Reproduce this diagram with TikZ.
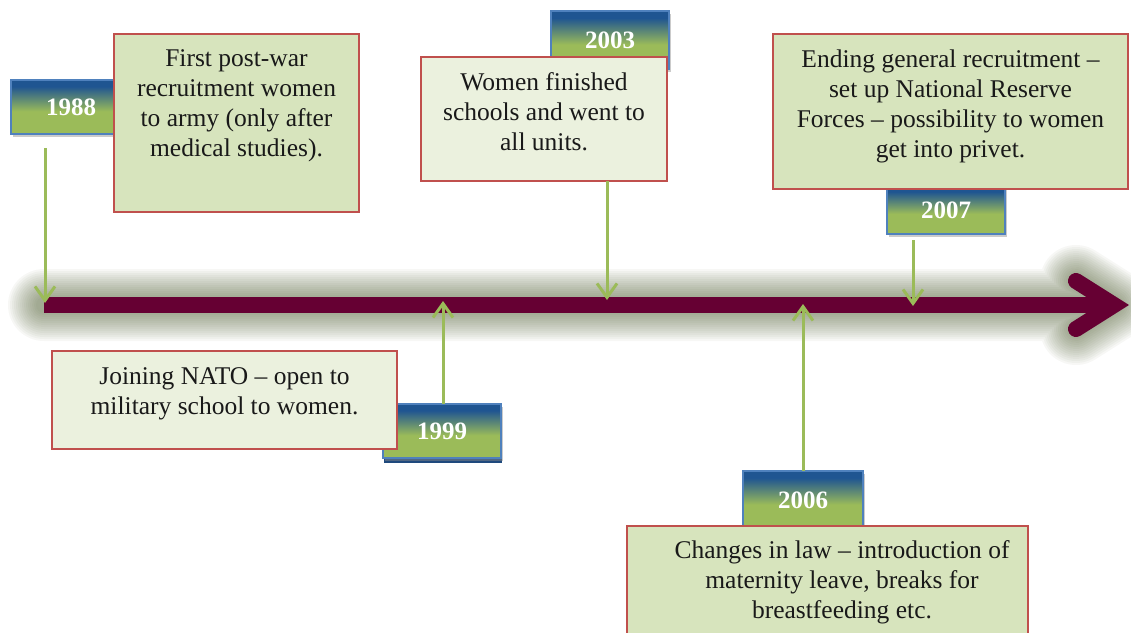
\documentclass[tikz,border=0pt]{standalone}
\usepackage{fontspec}
\setmainfont{Liberation Serif}
\usetikzlibrary{arrows.meta,shadows}
\definecolor{maroonc}{HTML}{660033}
\definecolor{glowc}{HTML}{4A5A2A}
\definecolor{conng}{HTML}{9BBB59}
\definecolor{ygreen}{HTML}{9BBB59}
\definecolor{yblue}{HTML}{1F5591}
\definecolor{ydark}{HTML}{1F497D}
\definecolor{yborder}{HTML}{4F81BD}
\definecolor{bred}{HTML}{C0504D}
\definecolor{bfillA}{HTML}{D7E4BD}
\definecolor{bfillB}{HTML}{EBF1DE}
\pgfdeclareverticalshading{yrshade}{100bp}{color(0bp)=(ygreen); color(25bp)=(ygreen); color(46bp)=(ygreen); color(69bp)=(yblue); color(100bp)=(yblue)}
\tikzset{
  yearbox/.style={draw=yborder, line width=1.2pt, shading=yrshade, text=white,
    font=\fontsize{25}{30}\selectfont\bfseries, inner sep=0pt, outer sep=0pt,
    drop shadow={shadow xshift=2pt, shadow yshift=-3pt, fill=black!45, opacity=0.45}},
  textbox/.style={draw=bred, line width=1.5pt, inner sep=0pt, outer sep=0pt},
  txt/.style={font=\fontsize{25.5}{30}\selectfont, align=center, inner sep=0pt, text=black!90},
  conn/.style={draw=conng, line width=3pt, -{Straight Barb[length=14pt,width=20pt]}},
  glowline/.style={draw=glowc, opacity=0.045, line cap=round, line join=round},
}
\begin{document}
\begin{tikzpicture}[x=1pt,y=1pt]
\useasboundingbox (0,0) rectangle (1131,-632);
\clip (0,0) rectangle (1131,-632);
\fill[white] (0,0) rectangle (1131,-632);
% main arrow coordinates
\coordinate (L) at (44,-305);
\coordinate (V) at (1114,-305);
\coordinate (A1) at (1076,-281);
\coordinate (A2) at (1076,-329);
% glow
\foreach \w in {16,20,...,72} {
  \draw[glowline, line width=\w pt] (L) -- (V) (A1) -- (V) -- (A2);
}
% main arrow
\draw[maroonc, line width=16pt] (L) -- (V);
\draw[maroonc, line width=16pt, line cap=round, line join=miter] (A1) -- (V) -- (A2);

% year boxes
\node[yearbox, minimum width=120pt, minimum height=54pt] (y88) at (71,-107) {1988};
\node[yearbox, minimum width=118pt, minimum height=58pt] (y03) at (610,-40) {2003};
\node[yearbox, minimum width=118pt, minimum height=48pt] (y07) at (946,-210) {2007};
\fill[ydark] (384,-456) rectangle (502,-463);
\node[yearbox, minimum width=118pt, minimum height=54pt] (y99) at (442,-431) {1999};
\node[yearbox, minimum width=120pt, minimum height=58pt] (y06) at (803,-500) {2006};

% text boxes
\node[textbox, fill=bfillA, minimum width=245pt, minimum height=178pt] (b88) at (236.5,-123) {};
\node[txt, anchor=north] (t88) at ([yshift=-15pt]b88.north) {First post-war\\recruitment women\\to army (only after\\medical studies).};

\node[textbox, fill=bfillB, minimum width=246pt, minimum height=124pt] (b03) at (544,-119) {};
\node[txt, anchor=north] (t03) at ([yshift=-15pt]b03.north) {Women finished\\schools and went to\\all units.};

\node[textbox, fill=bfillA, minimum width=355pt, minimum height=155pt] (b07) at (950.5,-111.5) {};
\node[txt, anchor=north] (t07) at ([yshift=-16pt]b07.north) {Ending general recruitment --\\set up National Reserve\\Forces -- possibility to women\\get into privet.};

\node[textbox, fill=bfillB, minimum width=345pt, minimum height=98pt] (b99) at (224.5,-400) {};
\node[txt, anchor=north] (t99) at ([yshift=-16pt]b99.north) {Joining NATO -- open to\\military school to women.};

\node[textbox, fill=bfillA, minimum width=401pt, minimum height=119pt] (b06) at (827.5,-585.5) {};
\node[txt, anchor=north] (t06) at (842,-540) {Changes in law -- introduction of\\maternity leave, breaks for\\breastfeeding etc.};

% connector coordinates
\coordinate (s88) at (45,-148);
\coordinate (e88) at (45,-303);
\coordinate (s03) at (607,-181);
\coordinate (e03) at (607,-300);
\coordinate (s07) at (913,-240);
\coordinate (e07) at (913,-306);
\coordinate (s99) at (443,-404);
\coordinate (e99) at (443,-301);
\coordinate (s06) at (803,-471);
\coordinate (e06) at (803,-304);

\draw[conn] (s88) -- (e88);
\draw[conn] (b03.south -| s03) -- (e03);
\draw[conn] (s07) -- (e07);
\draw[conn] (y99.north -| s99) -- (e99);
\draw[conn] (y06.north) -- (e06);
\end{tikzpicture}
\end{document}
